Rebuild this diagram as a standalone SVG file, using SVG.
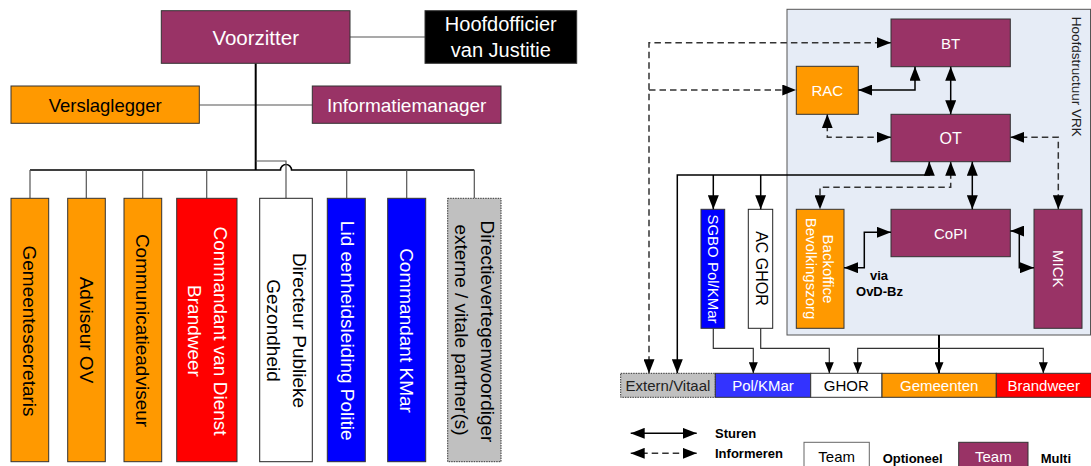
<svg xmlns="http://www.w3.org/2000/svg" width="1091" height="466" viewBox="0 0 1091 466">
<style>
text{font-family:"Liberation Sans",Arial,sans-serif;text-anchor:middle;dominant-baseline:central}
.f19{font-size:19px}
.f15{font-size:15px}
.w{fill:#fff}
.k{fill:#000}
.b{font-weight:bold;font-size:13px;text-anchor:start;dominant-baseline:auto}
.box{stroke:#333;stroke-width:1}
.pur{fill:#993366}
.org{fill:#FF9900}
.red{fill:#FF0000}
.blu{fill:#0000FF}
.wht{fill:#fff}
.gry{fill:#C0C0C0;stroke-dasharray:1.5,1}
.tl{fill:none;stroke:#555;stroke-width:1.2}
.tk{fill:none;stroke:#000;stroke-width:2}
.s{fill:none;stroke:#000;stroke-width:1.5}
.d{fill:none;stroke:#333;stroke-width:1.5;stroke-dasharray:6.5,4}
.two{marker-start:url(#ah);marker-end:url(#ah)}
.end{marker-end:url(#ah)}
.two2{marker-start:url(#ah2);marker-end:url(#ah2)}
.end2{marker-end:url(#ah2)}
</style>
<defs>
<marker id="ah" viewBox="0 0 14 11" refX="14" refY="5.5" markerWidth="14" markerHeight="11" markerUnits="userSpaceOnUse" orient="auto-start-reverse">
<path d="M0,0 L14,5.5 L0,11 z" fill="#000"/>
</marker>
<marker id="ah2" viewBox="0 0 11 9" refX="11" refY="4.5" markerWidth="11" markerHeight="9" markerUnits="userSpaceOnUse" orient="auto-start-reverse">
<path d="M0,0 L11,4.5 L0,9 z" fill="#000"/>
</marker>
</defs>

<!-- container -->
<g id="hoofdstructuur">
<rect x="787" y="9.3" width="303.5" height="325.7" fill="#E6ECF6" stroke="#555" stroke-width="1"/>
<text transform="translate(1076.5,76.7) rotate(90)" style="font-size:13.5px;fill:#222">Hoofdstructuur VRK</text>
</g>

<!-- left tree connectors -->
<g id="connectors-left">
<path class="tl" d="M350,37 H425"/>
<path class="tl" d="M199.3,105 H312.3"/>
<path class="tk" d="M255.7,63.3 V170"/>
<path class="s" d="M30,170 H280.5 A5.5,5.5 0 0 1 291.5,170 H474.3"/>
<path class="tl" d="M255.7,161 H286 V198.3"/>
<path class="tl" d="M30,170 V198.3 M86.3,170 V198.3 M142.7,170 V198.3 M206.7,170 V198.3 M346.7,170 V198.3 M406.7,170 V198.3 M474.3,170 V198.3"/>
</g>

<!-- left nodes -->
<g id="voorzitter"><rect class="box pur" x="161.3" y="10.7" width="188.7" height="52.6"/><text class="f19 w" x="255.7" y="37" style="font-size:20.5px">Voorzitter</text></g>
<g id="hoofdofficier"><rect class="box" fill="#000" x="425" y="10.7" width="151.7" height="52.6"/><text class="f19 w" x="500.8" y="24" style="font-size:20px">Hoofdofficier</text><text class="f19 w" x="500.8" y="49.5" style="font-size:20px">van Justitie</text></g>
<g id="verslaglegger"><rect class="box org" x="11" y="86" width="188.3" height="37.3"/><text class="f19 k" x="105.2" y="105" style="font-size:18.5px">Verslaglegger</text></g>
<g id="informatiemanager"><rect class="box pur" x="312.3" y="86" width="188.7" height="37.3"/><text class="f19 w" x="406.7" y="105">Informatiemanager</text></g>

<g id="gemeentesecretaris"><rect class="box org" x="11" y="198.3" width="37.7" height="263.4"/><text class="f19 k" transform="translate(29.5,331) rotate(90)">Gemeentesecretaris</text></g>
<g id="adviseur-ov"><rect class="box org" x="67.7" y="198.3" width="37.6" height="263.4"/><text class="f19 k" transform="translate(86.5,330) rotate(90)">Adviseur OV</text></g>
<g id="communicatieadviseur"><rect class="box org" x="124" y="198.3" width="37.7" height="263.4"/><text class="f19 k" transform="translate(142.8,330.5) rotate(90)">Communicatieadviseur</text></g>
<g id="commandant-brandweer"><rect class="box red" x="176.7" y="198.3" width="60.3" height="263.4"/><text class="f19 w" transform="translate(220.5,331) rotate(90)">Commandant van Dienst</text><text class="f19 w" transform="translate(194,331) rotate(90)">Brandweer</text></g>
<g id="directeur-publieke-gezondheid"><rect class="box wht" x="259.7" y="198.3" width="52.6" height="263.4" style="stroke:#222"/><text class="f19 k" transform="translate(299.5,330.5) rotate(90)">Directeur Publieke</text><text class="f19 k" transform="translate(273.5,330.5) rotate(90)">Gezondheid</text></g>
<g id="lid-eenheidsleiding-politie"><rect class="box blu" x="327.3" y="198.3" width="38" height="263.4"/><text class="f19 w" transform="translate(347,330.7) rotate(90)">Lid eenheidsleiding Politie</text></g>
<g id="commandant-kmar"><rect class="box blu" x="387.7" y="198.3" width="38" height="263.4"/><text class="f19 w" transform="translate(406.7,330.5) rotate(90)">Commandant KMar</text></g>
<g id="directievertegenwoordiger"><rect class="box gry" x="447.7" y="198.3" width="53.3" height="263.4"/><text class="f19 k" transform="translate(487.5,331.5) rotate(90)">Directievertegenwoordiger</text><text class="f19 k" transform="translate(461.5,330) rotate(90)">externe / vitale partner(s)</text></g>

<!-- right nodes -->
<g id="bt"><rect class="box pur" x="891" y="19" width="119.3" height="47.7"/><text class="f15 w" x="950.7" y="43">BT</text></g>
<g id="rac"><rect class="box org" x="796.3" y="66.3" width="62" height="48"/><text class="f15 w" x="827.3" y="90.3">RAC</text></g>
<g id="ot"><rect class="box pur" x="891" y="114.3" width="119.3" height="47.4"/><text class="f15 w" x="950.7" y="138" style="font-size:16px">OT</text></g>
<g id="copi"><rect class="box pur" x="891" y="209.3" width="119.3" height="47.4"/><text class="f15 w" x="950.7" y="233">CoPI</text></g>
<g id="mick"><rect class="box pur" x="1034" y="209.3" width="48" height="119"/><text class="f15 w" transform="translate(1058.5,268.8) rotate(90)">MICK</text></g>
<g id="backoffice-bevolkingszorg"><rect class="box org" x="796.3" y="209.3" width="47.7" height="119"/><text class="f15 w" transform="translate(828.5,269) rotate(90)">Backoffice</text><text class="f15 w" transform="translate(811.3,268.5) rotate(90)">Bevolkingszorg</text></g>
<g id="sgbo"><rect class="box blu" x="701" y="209.3" width="23.7" height="119"/><text class="f15 w" transform="translate(713.3,269) rotate(90)">SGBO Pol/KMar</text></g>
<g id="ac-ghor"><rect class="box wht" x="748.3" y="209.3" width="24.4" height="119" style="stroke:#222"/><text class="f15 k" transform="translate(761,268.5) rotate(90)" style="font-size:16px">AC GHOR</text></g>

<g id="via-label"><text class="b" x="879" y="279.5" style="text-anchor:middle">via</text><text class="b" x="879.5" y="295.5" style="text-anchor:middle">OvD-Bz</text></g>

<!-- bottom bar -->
<g id="extern-vitaal"><rect class="box gry" x="620.7" y="373.3" width="94.6" height="24"/><text class="f15" x="668" y="385.5" fill="#222">Extern/Vitaal</text></g>
<g id="pol-kmar"><rect class="box" fill="#3333FF" x="715.3" y="373.3" width="95.4" height="24"/><text class="f15 w" x="763" y="385.5">Pol/KMar</text></g>
<g id="ghor"><rect class="box wht" x="810.7" y="373.3" width="71.3" height="24"/><text class="f15 k" x="846.3" y="385.5">GHOR</text></g>
<g id="gemeenten"><rect class="box org" x="882" y="373.3" width="114.3" height="24"/><text class="f15 w" x="939.2" y="385.5">Gemeenten</text></g>
<g id="brandweer"><rect class="box red" x="996.3" y="373.3" width="95" height="24"/><text class="f15 w" x="1043.7" y="385.5">Brandweer</text></g>

<!-- right connectors -->
<g id="connectors">
<path class="s two" d="M858.3,90 H915 V66.7"/>
<path class="s two" d="M950.7,66.7 V114.3"/>
<path class="s two" d="M972.3,161.7 V209.3"/>
<path class="s two" d="M677.3,373.3 V175 H929.3 V161.7"/>
<path class="s end" d="M713.3,175 V209.3"/>
<path class="s end" d="M760.7,175 V209.3"/>
<path class="s two" d="M844,267.7 H864.3 V232.3 H891"/>
<path class="s two" d="M1010.3,231 H1019.3 V267.7 H1034"/>
<path class="tl end2" style="stroke:#333" d="M713.3,328.3 V348.3 H753.3 V373.3"/>
<path class="tl end2" style="stroke:#333" d="M760.7,328.3 V348.3 H829.3 V373.3"/>
<path class="s end2" style="stroke-width:2" d="M939,335 V373.3"/>
<path class="tl two2" style="stroke:#333" d="M857.7,373.3 V348.3 H1043.3 V373.3"/>
<path class="d two" d="M649,373.3 V42.7 H891"/>
<path class="d end" d="M649,90 H796.3"/>
<path class="d two" d="M827.3,114.3 V137.3 H891"/>
<path class="d two" d="M1010.3,137.3 H1058.3 V209.3"/>
<path class="d two" d="M950.7,161.7 V187.3 H820 V209.3"/>
</g>

<!-- legend -->
<g id="legend">
<path class="s" d="M630.7,433.3 H696.7" style="marker-start:url(#ah);marker-end:url(#ah)"/>
<path class="d" d="M630.7,453.3 H696.7" style="marker-start:url(#ah);marker-end:url(#ah)"/>
<text class="b" x="715" y="437.5">Sturen</text>
<text class="b" x="715" y="457.5">Informeren</text>
<rect x="804" y="442.3" width="65.3" height="30" fill="#fff" stroke="#666" stroke-width="1"/>
<text class="f15 k" x="836.7" y="456.5">Team</text>
<text class="b" x="882.7" y="463">Optioneel</text>
<rect class="box pur" x="958.7" y="442.3" width="69.3" height="30"/>
<text class="f15 w" x="993.3" y="456.5">Team</text>
<text class="b" x="1040.7" y="463">Multi</text>
</g>
</svg>
